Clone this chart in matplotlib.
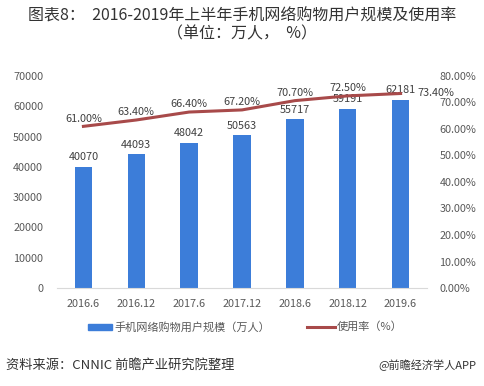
import matplotlib.pyplot as plt
import numpy as np

plt.rcParams['font.family'] = ['Noto Sans CJK SC', 'DejaVu Sans']

periods = ['2016.6', '2016.12', '2017.6', '2017.12', '2018.6', '2018.12', '2019.6']
users = [40070, 44093, 48042, 50563, 55717, 59191, 62181]
rate = [61.0, 63.4, 66.4, 67.2, 70.7, 72.5, 73.4]

bar_c = '#3c7dd9'
line_c = '#a84a4a'
txt_c = '#595959'

fig = plt.figure(figsize=(4.85, 3.86), dpi=100)
ax = fig.add_axes([57/485, 1-288/386, 370/485, 212/386])
ax2 = ax.twinx()

x = np.arange(len(periods))
ax.bar(x, users, width=0.33, color=bar_c, zorder=2)
for xi, v in zip(x, users):
    ax.text(xi, v + 1400, str(v), ha='center', va='bottom', fontsize=7.8, color='#404040')
ax.set_ylim(0, 70000)
ax.set_yticks(range(0, 70001, 10000))
ax.set_xlim(-0.5, len(periods) - 0.5)
ax.set_xticks(x)
ax.set_xticklabels(periods)

ax2.plot(x, rate, color=line_c, lw=2.2, zorder=3)
ax2.set_ylim(0, 80)
ax2.set_yticks(range(0, 81, 10))
ax2.set_yticklabels(['%.2f%%' % t for t in range(0, 81, 10)])
for i, (xi, r) in enumerate(zip(x, rate)):
    if i == len(x) - 1:
        ax2.text(xi + 0.32, r, '%.2f%%' % r, ha='left', va='center', fontsize=7.8, color='#404040')
    else:
        ax2.text(xi, r + 1.0, '%.2f%%' % r, ha='center', va='bottom', fontsize=7.8, color='#404040')

for a in (ax, ax2):
    for s in a.spines.values():
        s.set_visible(False)
    a.tick_params(length=0, labelsize=7.8, colors=txt_c)
ax.spines['bottom'].set_visible(True)
ax.spines['bottom'].set_color('#d9d9d9')
ax.tick_params(axis='x', pad=8)
ax.tick_params(axis='y', pad=10)
ax2.tick_params(axis='y', pad=9)

fig.text(0.5, 1-16/386, '图表8：  2016-2019年上半年手机网络购物用户规模及使用率', ha='center', va='center', fontsize=11.5, color='#333333')
fig.text(0.5, 1-34/386, '（单位：万人，  %）', ha='center', va='center', fontsize=11.5, color='#333333')

# legend
fig.patches.append(plt.Rectangle((88/485, 1-330/386), 24/485, 6/386, transform=fig.transFigure, color=bar_c))
fig.text(114/485, 1-327/386, '手机网络购物用户规模（万人）', va='center', fontsize=8, color=txt_c)
fig.lines.append(plt.Line2D([307/485, 335/485], [1-327/386, 1-327/386], transform=fig.transFigure, color=line_c, lw=2.2))
fig.text(337/485, 1-327/386, '使用率（%）', va='center', fontsize=8, color=txt_c)

fig.text(6/485, 1-365/386, '资料来源：CNNIC 前瞻产业研究院整理', va='center', fontsize=9.5, style='italic', color='#333333')
fig.text(476/485, 1-365/386, '@前瞻经济学人APP', ha='right', va='center', fontsize=8, color='#333333')

fig.savefig('out.png', dpi=100)
